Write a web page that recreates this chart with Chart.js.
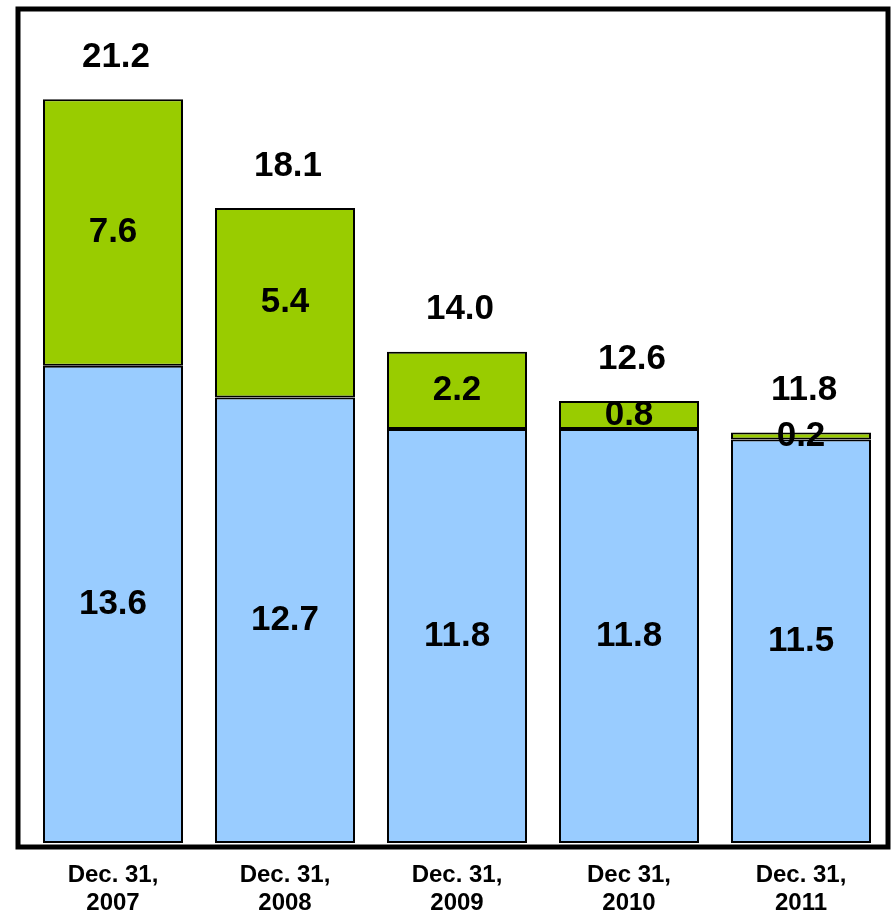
<!DOCTYPE html>
<html>
<head>
<meta charset="utf-8">
<script src="https://cdn.jsdelivr.net/npm/chart.js@4"></script>
<style>
  html,body{margin:0;padding:0;background:#fff;}
  #wrap{width:892px;height:918px;position:relative;}
</style>
</head>
<body>
<div id="wrap"><canvas id="c"></canvas></div>
<script>
// chart values
const categories = [
  ['Dec. 31,', '2007'],
  ['Dec. 31,', '2008'],
  ['Dec. 31,', '2009'],
  ['Dec 31,', '2010'],
  ['Dec. 31,', '2011']
];
const baseValues = [13.6, 12.7, 11.8, 11.8, 11.5];
const topValues = [7.6, 5.4, 2.2, 0.8, 0.2];
const totalLabels = ['21.2', '18.1', '14.0', '12.6', '11.8'];

const FONT = '"Liberation Sans", Arial, Helvetica, sans-serif';

// thick black frame round the plot
const framePlugin = {
  id: 'frame',
  afterDraw(chart){
    const ctx = chart.ctx, a = chart.chartArea;
    ctx.save();
    ctx.strokeStyle = '#000';
    ctx.lineWidth = 5;
    ctx.strokeRect(a.left - 9, 9, (a.right - a.left) + 10, a.bottom + 4 - 9);
    ctx.restore();
  }
};

// segment values in the middle, totals above
const labelPlugin = {
  id: 'labels',
  afterDatasetsDraw(chart){
    const ctx = chart.ctx;
    ctx.save();
    ctx.fillStyle = '#000';
    ctx.font = 'bold 35px ' + FONT;
    ctx.textAlign = 'center';
    ctx.textBaseline = 'middle';
    chart.data.datasets.forEach((ds, di) => {
      const meta = chart.getDatasetMeta(di);
      meta.data.forEach((bar, i) => {
        ctx.fillText(ds.data[i].toFixed(1), bar.x, (bar.y + bar.base) / 2);
      });
    });
    const topMeta = chart.getDatasetMeta(chart.data.datasets.length - 1);
    topMeta.data.forEach((bar, i) => {
      ctx.fillText(totalLabels[i], bar.x + 3, bar.y - 42);
    });
    ctx.restore();
  }
};

new Chart(document.getElementById('c'), {
  type: 'bar',
  data: {
    labels: categories,
    datasets: [
      {data: baseValues, backgroundColor: '#99CCFF', borderColor: '#000', borderWidth: 2, borderSkipped: false},
      {data: topValues, backgroundColor: '#99CC00', borderColor: '#000', borderWidth: 2, borderSkipped: false}
    ]
  },
  options: {
    responsive: true,
    maintainAspectRatio: false,
    animation: false,
    layout: {padding: {left: 27, right: 5, top: 1, bottom: 0}},
    plugins: {legend: {display: false}, tooltip: {enabled: false}},
    datasets: {bar: {categoryPercentage: 1, barPercentage: 0.814}},
    scales: {
      x: {
        stacked: true,
        grid: {display: false, drawTicks: false},
        border: {display: false},
        ticks: {
          color: '#000',
          padding: 19,
          maxRotation: 0,
          font: {family: FONT, size: 24, weight: 'bold', lineHeight: 1.15}
        },
        afterFit(scale){ scale.height = 75; }
      },
      y: {
        stacked: true,
        display: false,
        min: 0,
        max: 24
      }
    }
  },
  plugins: [framePlugin, labelPlugin]
});
</script>
</body>
</html>
